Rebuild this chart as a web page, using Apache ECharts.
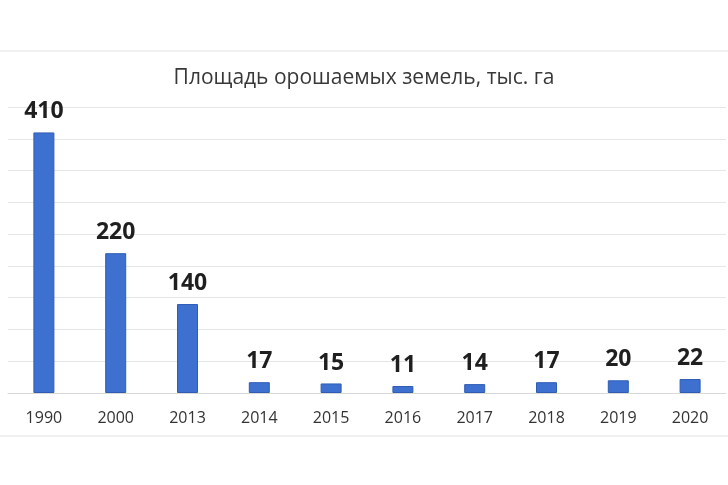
<!DOCTYPE html>
<html><head><meta charset="utf-8">
<script src="https://cdn.jsdelivr.net/npm/echarts@6/dist/echarts.min.js"></script>
<style>html,body{margin:0;padding:0;background:#fff}#c{width:728px;height:485px}</style>
</head><body><div id="c"></div>
<script>
var categories = ['1990','2000','2013','2014','2015','2016','2017','2018','2019','2020'];
var values = [410, 220, 140, 17, 15, 11, 14, 17, 20, 22];
var titleText = 'Площадь орошаемых земель, тыс. га';

var chart = echarts.init(document.getElementById('c'));
chart.setOption({
  backgroundColor: '#fff',
  animation: false,
  title: {
    text: titleText, left: 'center', top: 63,
    textStyle: {fontFamily: 'Open Sans', fontSize: 21, fontWeight: 'normal', color: '#383838'}
  },
  graphic: [
    {type: 'line', shape: {x1: 0, y1: 51, x2: 728, y2: 51}, style: {stroke: '#f0f0f0', lineWidth: 2}},
    {type: 'line', shape: {x1: 0, y1: 436, x2: 728, y2: 436}, style: {stroke: '#f0f0f0', lineWidth: 2}}
  ],
  grid: {left: 8, right: 2, top: 107, bottom: 92, containLabel: false},
  xAxis: {
    type: 'category', data: categories,
    axisLine: {lineStyle: {color: '#d9d9d9'}},
    axisTick: {show: false},
    axisLabel: {fontFamily: 'Open Sans', fontSize: 16, color: '#333333', margin: 17}
  },
  yAxis: {
    type: 'value', min: 0, max: 450, interval: 50,
    axisLabel: {show: false},
    axisLine: {show: false}, axisTick: {show: false},
    splitLine: {lineStyle: {color: '#e6e6e6'}}
  },
  series: [{
    type: 'bar', data: values, barWidth: 21,
    itemStyle: {color: '#3d70cf', borderColor: '#2f5db5', borderWidth: 1},
    label: {show: true, position: 'top', distance: 9,
      fontFamily: 'Open Sans', fontSize: 23, fontWeight: 'bold', color: '#1f1f1f'}
  }]
});
</script></body></html>
